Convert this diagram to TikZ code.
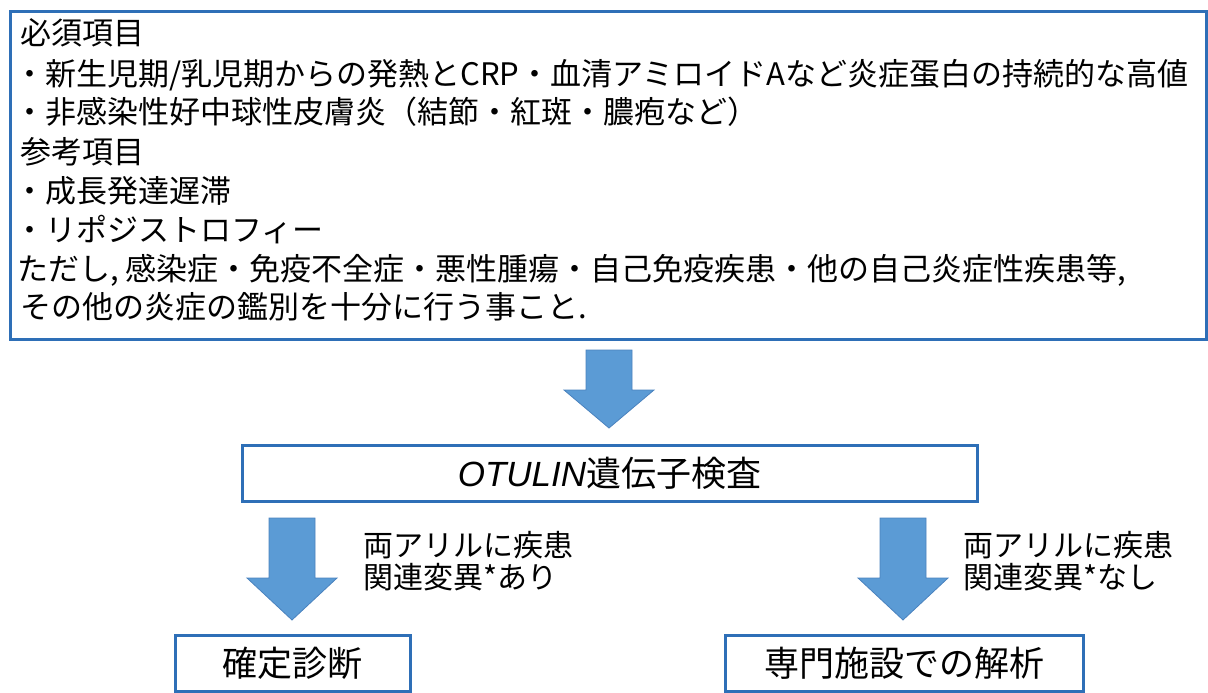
\documentclass[tikz,border=0pt]{standalone}
\usepackage{fontspec}
\setmainfont{Noto Sans CJK JP}
\newfontfamily\latfont{Liberation Sans}
\definecolor{boxblue}{HTML}{2E6FB7}
\definecolor{arrowfill}{HTML}{5B9BD5}
\definecolor{arrowedge}{HTML}{4A82BE}
\tikzset{
  box/.style={draw=boxblue, line width=3pt, fill=white, inner sep=0pt},
  line/.style={inner sep=0pt, anchor=base west, font=\fontsize{31}{39}\selectfont},
  lab/.style={inner sep=0pt, anchor=base west, font=\fontsize{30}{32}\selectfont},
  big/.style={font=\fontsize{35}{40}\selectfont},
  blockarrow/.style={fill=arrowfill, draw=arrowedge, line width=0.8pt},
  pics/downarrow/.style 2 args={code={
    \draw[blockarrow] (-23,0) -- (23,0) -- (23,#1) -- (45,#1) -- (0,#2) -- (-45,#1) -- (-23,#1) -- cycle;}}
}
\begin{document}
\begin{tikzpicture}[x=1pt,y=-1pt]
\useasboundingbox (0,0) rectangle (1208,693);
% top box
\node[box, minimum width=1196pt, minimum height=328pt, anchor=north west] (top) at (9,10) {};
\node[line] (l1) at (20,45) {必須項目};
\node[line] (l2) at (14,85) {・新生児期/乳児期からの発熱とCRP・血清アミロイドAなど炎症蛋白の持続的な高値};
\node[line] (l3) at (14,124) {・非感染性好中球性皮膚炎（結節・紅斑・膿疱など）};
\node[line] (l4) at (20,163) {参考項目};
\node[line] (l5) at (14,202) {・成長発達遅滞};
\node[line] (l6) at (14,241) {・リポジストロフィー};
\node[line] (l7) at (17,280) {ただし, 感染症・免疫不全症・悪性腫瘍・自己免疫疾患・他の自己炎症性疾患等,};
\node[line] (l8) at (20,318) {その他の炎症の鑑別を十分に行う事こと.};
% middle arrow
\pic at (609,350) {downarrow={40}{78}};
% OTULIN box
\node[box, minimum width=735pt, minimum height=56pt, big] (gene) at (609.5,473) {{\latfont\itshape OTULIN}遺伝子検査};
% side arrows
\pic at (292,518) {downarrow={60}{102}};
\pic at (903,518) {downarrow={60}{102}};
\node[lab] (la1) at (363,556) {両アリルに疾患};
\node[lab] (la2) at (363,588) {関連変異*あり};
\node[lab] (lb1) at (963,556) {両アリルに疾患};
\node[lab] (lb2) at (963,588) {関連変異*なし};
% bottom boxes
\node[box, minimum width=235pt, minimum height=56pt, big] (diag) at (292.5,663) {確定診断};
\node[box, minimum width=358pt, minimum height=56pt, big] (spec) at (904,663) {専門施設での解析};
\end{tikzpicture}
\end{document}
